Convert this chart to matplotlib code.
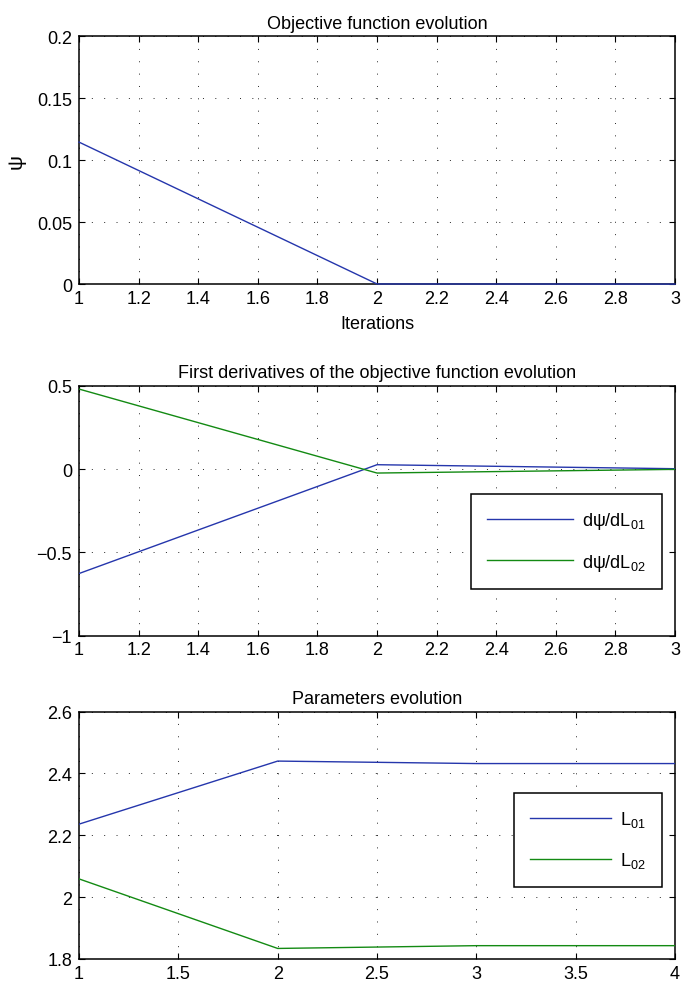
import matplotlib
matplotlib.use("Agg")
import matplotlib.pyplot as plt
from matplotlib.ticker import FuncFormatter, MultipleLocator

# data
iter_a = [1, 2, 3]
psi = [0.1147, 0.0003, 0.0002]

dpsi_dl01 = [-0.627, 0.026, 0.002]
dpsi_dl02 = [0.480, -0.024, -0.002]

iter_b = [1, 2, 3, 4]
l01 = [2.236, 2.440, 2.432, 2.432]
l02 = [2.059, 1.834, 1.843, 1.843]

BLUE = "#2536ac"
GREEN = "#138a13"

plt.rcParams["font.family"] = ["Liberation Sans", "DejaVu Sans"]
plt.rcParams["mathtext.fontset"] = "custom"
plt.rcParams["mathtext.rm"] = "Liberation Sans"
plt.rcParams["mathtext.default"] = "regular"
plt.rcParams["font.size"] = 13


def fmt(v, _pos):
    return ("%g" % round(v, 6)).replace("-", "\u2212")


def style_axes(ax):
    ax.grid(True, color="0.15", linewidth=0.7, linestyle=(0, (1, 11.7)))
    ax.tick_params(direction="in", top=True, right=True, length=4, width=0.8,
                   labelsize=13)
    ax.tick_params(axis="x", pad=4)
    ax.tick_params(axis="y", pad=5)
    for sp in ax.spines.values():
        sp.set_linewidth(1.1)
    ax.xaxis.set_major_formatter(FuncFormatter(fmt))
    ax.yaxis.set_major_formatter(FuncFormatter(fmt))


fig = plt.figure(figsize=(6.82, 9.87), dpi=100)
left, width = 0.1158, 0.874
lw = 1.0

ax1 = fig.add_axes([left, 0.7109, width, 0.2513])
ax1.plot(iter_a, psi, color=BLUE, linewidth=lw, zorder=3, clip_on=False)
ax1.set_xlim(1, 3)
ax1.set_ylim(0, 0.2)
ax1.xaxis.set_major_locator(MultipleLocator(0.2))
ax1.yaxis.set_major_locator(MultipleLocator(0.05))
style_axes(ax1)
ax1.set_title("Objective function evolution", fontsize=13, pad=6)
ax1.set_xlabel("Iterations", fontsize=13, labelpad=6)
ax1.set_ylabel("ψ", fontsize=15, labelpad=8)

ax2 = fig.add_axes([left, 0.3549, width, 0.2533])
ax2.plot(iter_a, dpsi_dl01, color=BLUE, linewidth=lw, zorder=3,
         label="dψ/dL$_{01}$")
ax2.plot(iter_a, dpsi_dl02, color=GREEN, linewidth=lw, zorder=3,
         label="dψ/dL$_{02}$")
ax2.set_xlim(1, 3)
ax2.set_ylim(-1, 0.5)
ax2.xaxis.set_major_locator(MultipleLocator(0.2))
ax2.yaxis.set_major_locator(MultipleLocator(0.5))
style_axes(ax2)
ax2.set_title("First derivatives of the objective function evolution",
              fontsize=13, pad=6)
leg2 = ax2.legend(loc="upper right", bbox_to_anchor=(0.978, 0.568),
                  borderaxespad=0, fancybox=False, framealpha=1,
                  edgecolor="black", handlelength=4.75, labelspacing=1.15,
                  borderpad=0.9, handletextpad=0.5, fontsize=13)
leg2.get_frame().set_linewidth(1.1)

ax3 = fig.add_axes([left, 0.0274, width, 0.2506])
ax3.plot(iter_b, l01, color=BLUE, linewidth=lw, zorder=3, label="L$_{01}$")
ax3.plot(iter_b, l02, color=GREEN, linewidth=lw, zorder=3, label="L$_{02}$")
ax3.set_xlim(1, 4)
ax3.set_ylim(1.8, 2.6)
ax3.xaxis.set_major_locator(MultipleLocator(0.5))
ax3.yaxis.set_major_locator(MultipleLocator(0.2))
style_axes(ax3)
ax3.set_title("Parameters evolution", fontsize=13, pad=6)
leg3 = ax3.legend(loc="upper right", bbox_to_anchor=(0.978, 0.670),
                  borderaxespad=0, fancybox=False, framealpha=1,
                  edgecolor="black", handlelength=4.5, labelspacing=1.15,
                  borderpad=0.9, handletextpad=0.5, fontsize=13)
leg3.get_frame().set_linewidth(1.1)

fig.savefig("out.png", dpi=100)
